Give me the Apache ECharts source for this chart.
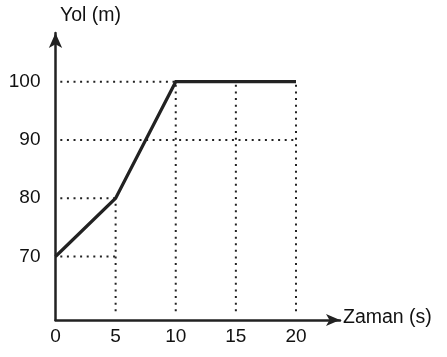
<!DOCTYPE html>
<html><head><meta charset="utf-8">
<script src="https://cdn.jsdelivr.net/npm/echarts@6/dist/echarts.min.js"></script>
<style>html,body{margin:0;padding:0;background:#fff}#c{width:447px;height:357px}</style>
</head><body><div id="c"></div>
<script>
const times = [0, 5, 10, 20];
const distances = [70, 80, 100, 100];
const xTicks = [0, 5, 10, 15, 20];
const yTicks = [70, 80, 90, 100];
const hGuides = [[70, 5], [80, 5], [90, 20], [100, 20]]; // [y, xEnd]
const vGuides = [[5, 80], [10, 100], [15, 100], [20, 100]]; // [x, yEnd]
const xName = 'Zaman (s)';
const yName = 'Yol (m)';

const X_MIN = 0, X_MAX = 23.66, Y_MIN = 59.1, Y_MAX = 108.35;
const dotStyle = {color: '#222', width: 2, type: [2, 4.6], cap: 'butt'};
const series = [];
hGuides.forEach(g => series.push({type: 'line', data: [[0.4, g[0]], [g[1], g[0]]], symbol: 'none', lineStyle: dotStyle, z: 1, silent: true}));
vGuides.forEach(g => series.push({type: 'line', data: [[g[0], Y_MIN + 1.5], [g[0], g[1]]], symbol: 'none', lineStyle: dotStyle, z: 1, silent: true}));
series.push({type: 'line', data: times.map((t, i) => [t, distances[i]]), symbol: 'none', lineStyle: {color: '#222', width: 3.2, join: 'miter'}, z: 5});

const font = '"Liberation Sans", Arial, sans-serif';
const chart = echarts.init(document.getElementById('c'));
chart.setOption({
  animation: false,
  grid: {left: 55.5, top: 33, right: 107, bottom: 37},
  xAxis: {type: 'value', min: X_MIN, max: X_MAX,
    axisLine: {onZero: false, lineStyle: {color: '#222', width: 2.5}, symbol: ['none', 'arrow'], symbolSize: [9, 14], symbolOffset: [0, 0]},
    axisTick: {show: false}, splitLine: {show: false},
    axisLabel: {customValues: xTicks, color: '#111', fontSize: 19, fontFamily: font, margin: 7, showMaxLabel: true}},
  yAxis: {type: 'value', min: Y_MIN, max: Y_MAX,
    axisLine: {show: true, onZero: false, lineStyle: {color: '#222', width: 2.5}, symbol: ['none', 'arrow'], symbolSize: [10, 15]},
    axisTick: {show: false}, splitLine: {show: false},
    axisLabel: {customValues: yTicks, color: '#111', fontSize: 19, fontFamily: font, margin: 15}},
  graphic: [
    {type: 'text', left: 60, top: 6, style: {text: yName, fontSize: 19.5, fontFamily: font, fill: '#111'}},
    {type: 'text', left: 343, top: 308, style: {text: xName, fontSize: 19.5, fontFamily: font, fill: '#111'}}
  ],
  series: series
});
</script></body></html>
